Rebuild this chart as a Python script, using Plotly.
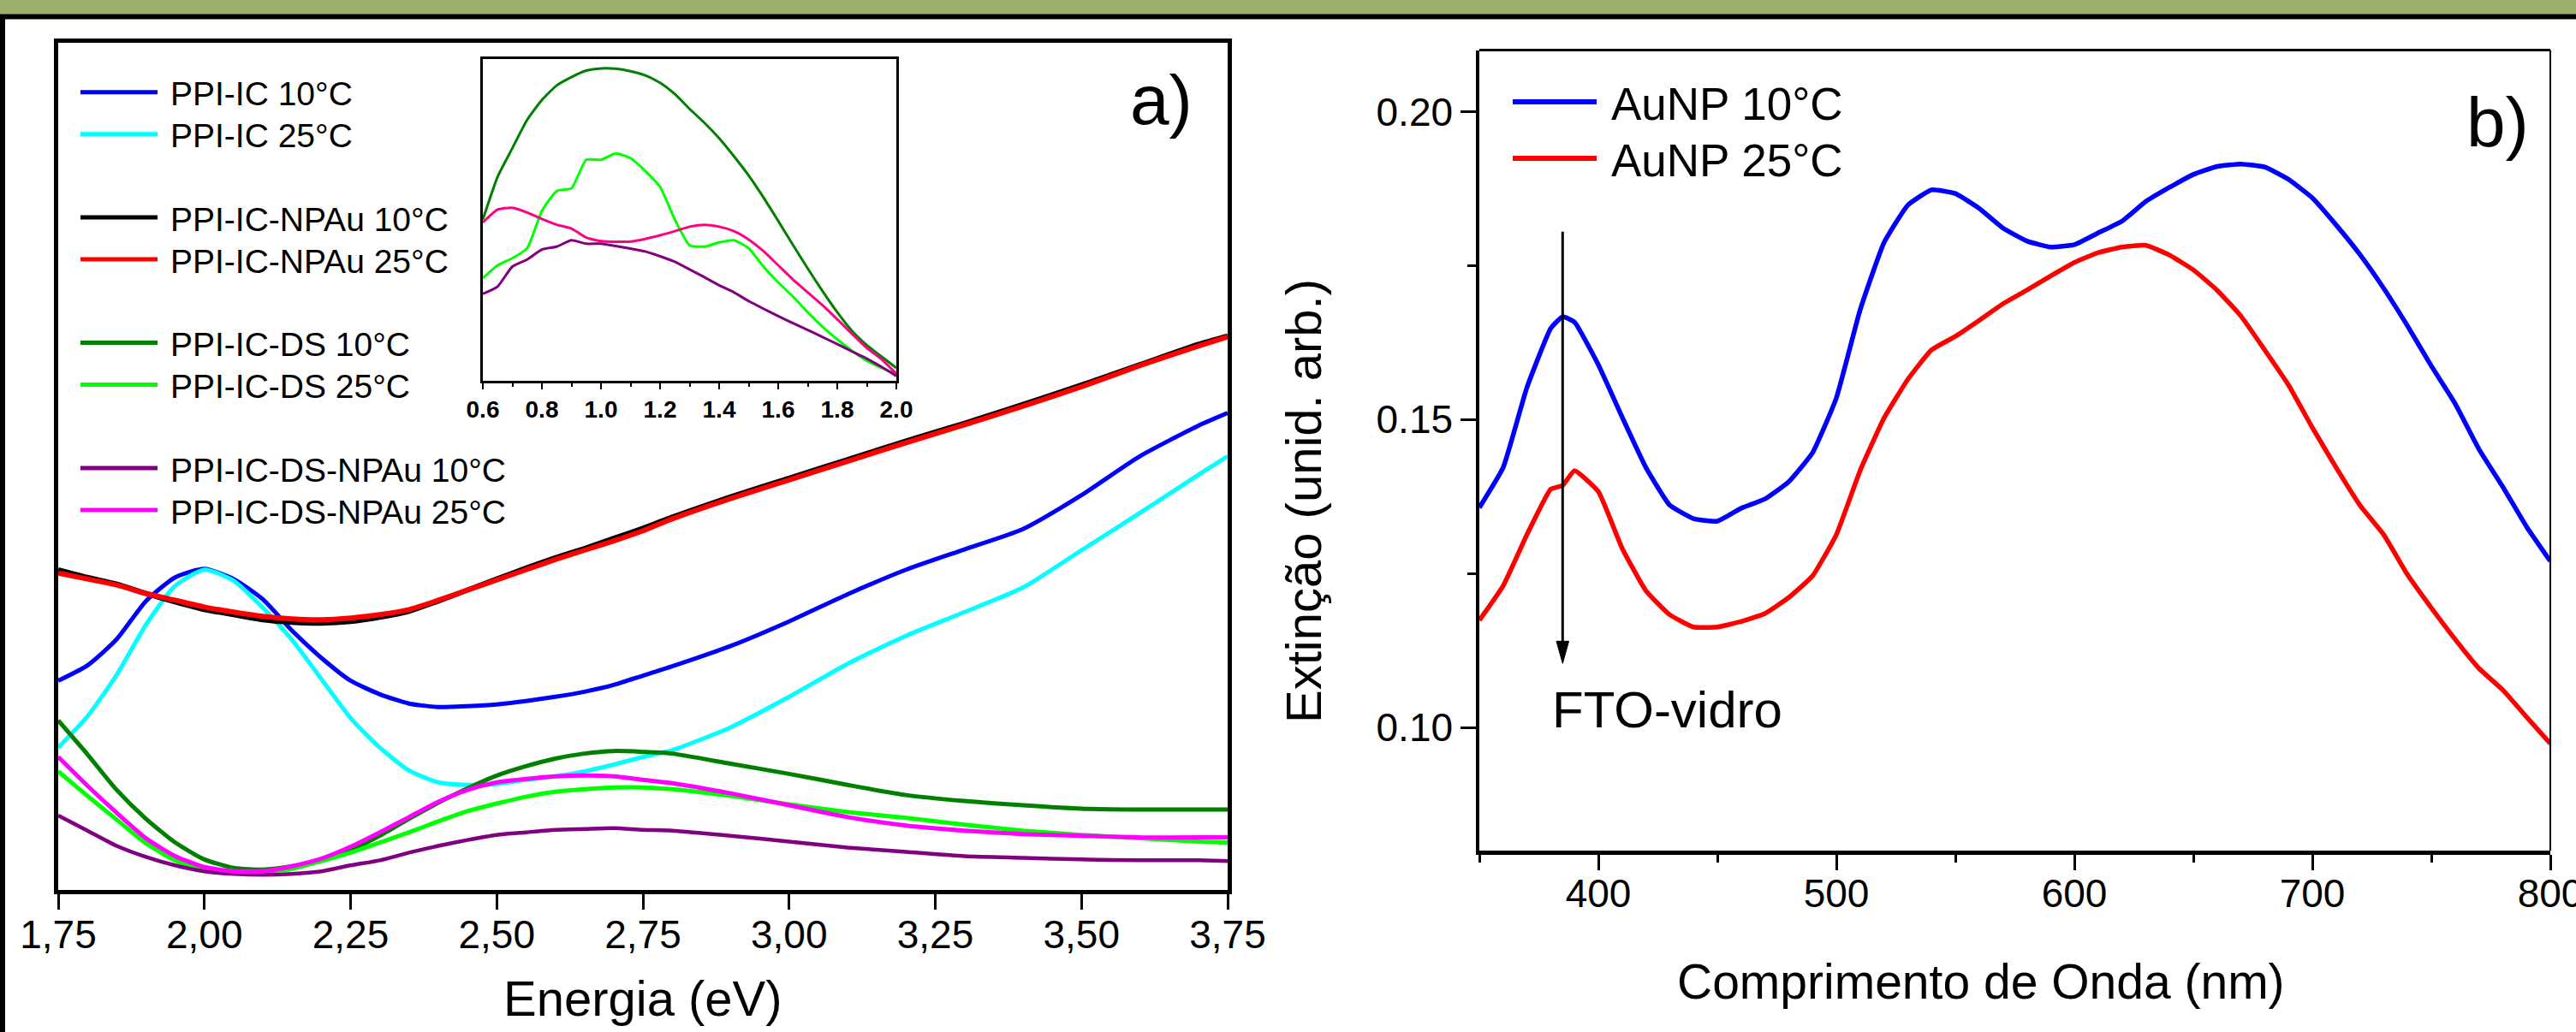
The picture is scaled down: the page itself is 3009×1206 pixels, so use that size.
import plotly.graph_objects as go

W, H = 3009, 1206
FONT = "Arial, 'Liberation Sans', sans-serif"

# ---------------- Panel a (main) ----------------
energy = [1.75, 1.80, 1.85, 1.90, 1.95, 2.00, 2.05, 2.10, 2.15, 2.20, 2.25,
          2.30, 2.35, 2.40, 2.45, 2.50, 2.55, 2.60, 2.65, 2.70, 2.75,
          2.80, 2.90, 3.00, 3.10, 3.20, 3.30, 3.40, 3.50, 3.60, 3.70, 3.75]

ppi_ic_10 = [0.247, 0.265, 0.296, 0.341, 0.369, 0.379, 0.367, 0.343, 0.306, 0.274, 0.247,
             0.231, 0.220, 0.216, 0.217, 0.219, 0.223, 0.228, 0.234, 0.242, 0.253,
             0.264, 0.288, 0.317, 0.349, 0.378, 0.402, 0.426, 0.466, 0.512, 0.548, 0.563]
ppi_ic_25 = [0.168, 0.205, 0.254, 0.313, 0.359, 0.378, 0.365, 0.333, 0.295, 0.249, 0.203,
             0.168, 0.141, 0.127, 0.124, 0.125, 0.130, 0.134, 0.140, 0.148, 0.157,
             0.165, 0.192, 0.228, 0.267, 0.300, 0.328, 0.357, 0.401, 0.445, 0.490, 0.512]
ppi_npau_10 = [0.378, 0.369, 0.361, 0.350, 0.340, 0.331, 0.325, 0.319, 0.316, 0.315, 0.317,
               0.322, 0.329, 0.341, 0.354, 0.367, 0.380, 0.392, 0.403, 0.415, 0.427,
               0.440, 0.464, 0.486, 0.508, 0.530, 0.551, 0.573, 0.596, 0.620, 0.644, 0.654]
ppi_npau_25 = [0.374, 0.367, 0.360, 0.350, 0.342, 0.334, 0.328, 0.323, 0.320, 0.319, 0.321,
               0.325, 0.331, 0.342, 0.354, 0.366, 0.378, 0.390, 0.401, 0.412, 0.424,
               0.438, 0.462, 0.484, 0.506, 0.528, 0.549, 0.571, 0.594, 0.619, 0.642, 0.653]
ppi_ds_10 = [0.200, 0.160, 0.118, 0.084, 0.056, 0.036, 0.026, 0.024, 0.028, 0.036, 0.047,
             0.064, 0.084, 0.103, 0.120, 0.135, 0.146, 0.155, 0.161, 0.164, 0.163,
             0.161, 0.149, 0.137, 0.124, 0.112, 0.105, 0.100, 0.096, 0.095, 0.095, 0.095]
ppi_ds_25 = [0.140, 0.111, 0.083, 0.055, 0.035, 0.025, 0.022, 0.022, 0.025, 0.034, 0.044,
             0.056, 0.068, 0.081, 0.093, 0.102, 0.110, 0.116, 0.119, 0.121, 0.121,
             0.119, 0.111, 0.101, 0.092, 0.085, 0.077, 0.070, 0.065, 0.061, 0.057, 0.056]
ppi_ds_npau_10 = [0.088, 0.070, 0.052, 0.039, 0.029, 0.022, 0.019, 0.018, 0.019, 0.022, 0.029,
                  0.035, 0.044, 0.052, 0.059, 0.065, 0.068, 0.071, 0.072, 0.073, 0.071,
                  0.070, 0.064, 0.057, 0.050, 0.045, 0.040, 0.038, 0.036, 0.035, 0.035, 0.034]
ppi_ds_npau_25 = [0.157, 0.123, 0.091, 0.061, 0.040, 0.027, 0.022, 0.022, 0.028, 0.037, 0.051,
                  0.068, 0.086, 0.104, 0.118, 0.127, 0.131, 0.134, 0.135, 0.134, 0.130,
                  0.126, 0.114, 0.100, 0.086, 0.076, 0.070, 0.066, 0.064, 0.062, 0.062, 0.062]

energy_ticks = [1.75, 2.00, 2.25, 2.50, 2.75, 3.00, 3.25, 3.50, 3.75]
energy_ticktext = ["1,75", "2,00", "2,25", "2,50", "2,75", "3,00", "3,25", "3,50", "3,75"]

# ---------------- Inset ----------------
inset_energy = [0.60, 0.65, 0.70, 0.75, 0.80, 0.85, 0.90, 0.95, 1.00, 1.05, 1.10, 1.15, 1.20,
                1.25, 1.30, 1.35, 1.40, 1.45, 1.50, 1.55, 1.60, 1.65, 1.70, 1.75, 1.80,
                1.85, 1.90, 1.95, 2.00]
inset_ds_10 = [0.501, 0.634, 0.723, 0.811, 0.873, 0.918, 0.944, 0.964, 0.971, 0.970, 0.962,
               0.949, 0.926, 0.891, 0.845, 0.802, 0.754, 0.698, 0.638, 0.570, 0.497, 0.422,
               0.349, 0.279, 0.213, 0.155, 0.111, 0.075, 0.040]
inset_ds_25 = [0.319, 0.359, 0.381, 0.412, 0.528, 0.590, 0.598, 0.687, 0.687, 0.707, 0.692,
               0.652, 0.603, 0.501, 0.421, 0.417, 0.430, 0.437, 0.412, 0.355, 0.306, 0.262,
               0.213, 0.168, 0.129, 0.093, 0.062, 0.040, 0.020]
inset_ds_npau_25 = [0.492, 0.532, 0.538, 0.523, 0.503, 0.485, 0.473, 0.445, 0.434, 0.432, 0.433,
                    0.441, 0.452, 0.465, 0.479, 0.485, 0.479, 0.465, 0.439, 0.403, 0.359, 0.315,
                    0.275, 0.235, 0.191, 0.146, 0.102, 0.067, 0.022]
inset_ds_npau_10 = [0.270, 0.293, 0.355, 0.377, 0.408, 0.417, 0.437, 0.426, 0.426, 0.419, 0.411,
                    0.402, 0.387, 0.370, 0.346, 0.322, 0.297, 0.275, 0.248, 0.224, 0.201, 0.179,
                    0.158, 0.136, 0.114, 0.091, 0.069, 0.043, 0.015]

# ---------------- Panel b ----------------
wavelength = [350, 360, 370, 380, 385, 390, 400, 410, 420, 430, 440, 450, 460, 470, 480, 490,
              500, 510, 520, 530, 540, 550, 560, 570, 580, 590, 600, 610, 620, 630, 640, 650,
              660, 670, 680, 690, 700, 710, 720, 730, 740, 750, 760, 770, 780, 790, 800]
aunp_10 = [0.1357, 0.1422, 0.1552, 0.1648, 0.1667, 0.1658, 0.1589, 0.1504, 0.1422, 0.1361,
           0.1339, 0.1335, 0.1356, 0.1371, 0.1399, 0.1446, 0.1535, 0.1678, 0.1787, 0.1848,
           0.1873, 0.1867, 0.1843, 0.1811, 0.1790, 0.1780, 0.1784, 0.1803, 0.1822, 0.1854,
           0.1877, 0.1898, 0.1911, 0.1915, 0.1910, 0.1890, 0.1860, 0.1816, 0.1768, 0.1713,
           0.1652, 0.1587, 0.1526, 0.1452, 0.1391, 0.1326, 0.1270]
aunp_25 = [0.1174, 0.1230, 0.1313, 0.1387, 0.1393, 0.1417, 0.1383, 0.1291, 0.1222, 0.1183,
           0.1163, 0.1163, 0.1172, 0.1185, 0.1211, 0.1246, 0.1313, 0.1417, 0.1502, 0.1565,
           0.1613, 0.1635, 0.1661, 0.1688, 0.1710, 0.1733, 0.1755, 0.1771, 0.1780, 0.1783,
           0.1767, 0.1743, 0.1710, 0.1668, 0.1613, 0.1556, 0.1487, 0.1422, 0.1361, 0.1313,
           0.1248, 0.1194, 0.1143, 0.1096, 0.1061, 0.1017, 0.0974]
ext_ticks = [0.10, 0.15, 0.20]
ext_ticktext = ["0.10", "0.15", "0.20"]
wl_ticks = [400, 500, 600, 700, 800]

# ---------------- names / colours ----------------
names_a = ["PPI-IC 10°C", "PPI-IC 25°C", "PPI-IC-NPAu 10°C", "PPI-IC-NPAu 25°C",
           "PPI-IC-DS 10°C", "PPI-IC-DS 25°C", "PPI-IC-DS-NPAu 10°C", "PPI-IC-DS-NPAu 25°C"]
colors_a = ["#0000FF", "#00FFFF", "#000000", "#FF0000",
            "#008000", "#00FF00", "#800080", "#FF00FF"]
series_a = [ppi_ic_10, ppi_ic_25, ppi_npau_10, ppi_npau_25,
            ppi_ds_10, ppi_ds_25, ppi_ds_npau_10, ppi_ds_npau_25]
widths_a = [5, 5, 6, 6, 5, 5, 4.5, 5]
names_b = ["AuNP 10°C", "AuNP 25°C"]
colors_b = ["#0000FF", "#FF0000"]

fig = go.Figure()

for name, col, ys, lw in zip(names_a, colors_a, series_a, widths_a):
    fig.add_trace(go.Scatter(x=energy, y=ys, mode="lines", name=name,
                             line=dict(color=col, width=lw, shape="spline", smoothing=0.6),
                             xaxis="x", yaxis="y", showlegend=False))

inset_series = [(inset_ds_10, "#008000"), (inset_ds_25, "#00FF00"),
                (inset_ds_npau_10, "#800080"), (inset_ds_npau_25, "#FF0080")]
for ys, col in inset_series:
    fig.add_trace(go.Scatter(x=inset_energy, y=ys, mode="lines",
                             line=dict(color=col, width=3, shape="spline", smoothing=0.5),
                             xaxis="x2", yaxis="y2", showlegend=False))

for name, col, ys in zip(names_b, colors_b, [aunp_10, aunp_25]):
    fig.add_trace(go.Scatter(x=wavelength, y=ys, mode="lines", name=name,
                             line=dict(color=col, width=5.5, shape="spline", smoothing=0.4),
                             xaxis="x3", yaxis="y3", showlegend=False))

def px(x):
    return x / W

def py(y):
    return 1 - y / H

axis_common = dict(showgrid=False, zeroline=False, linecolor="black", tickcolor="black",
                   automargin=False, ticklabeloverflow="allow",
                   tickfont=dict(family=FONT, size=46, color="black"))

fig.update_layout(
    width=W, height=H, autosize=False,
    margin=dict(l=0, r=0, t=0, b=0, pad=0),
    paper_bgcolor="white", plot_bgcolor="white",
    font=dict(family=FONT, color="black"),
    xaxis=dict(domain=[px(68), px(1434)], range=[1.75, 3.75], anchor="y",
               tickvals=energy_ticks, ticktext=energy_ticktext,
               ticks="outside", ticklen=18, tickwidth=3, ticklabelstandoff=-10,
               showline=True, linewidth=5, mirror=True, **axis_common),
    yaxis=dict(domain=[py(1040), py(50)], range=[0, 1], anchor="x",
               showticklabels=False, ticks="", showline=True, linewidth=5, mirror=True,
               showgrid=False, zeroline=False, linecolor="black", automargin=False),
    xaxis2=dict(domain=[px(564), px(1047)], range=[0.6, 2.0], anchor="y2",
                dtick=0.2, tick0=0.6, tickformat=".1f",
                ticks="outside", ticklen=7, tickwidth=2,
                minor=dict(dtick=0.1, tick0=0.6, ticks="outside", ticklen=4, tickwidth=2,
                           tickcolor="black"),
                showline=True, linewidth=2.5, mirror=True, automargin=False,
                showgrid=False, zeroline=False, linecolor="black", tickcolor="black",
                tickfont=dict(family=FONT, size=28, color="black", weight="bold")),
    yaxis2=dict(domain=[py(445), py(69)], range=[0, 1], anchor="x2",
                showticklabels=False, ticks="", showline=True, linewidth=2.5, mirror=True,
                showgrid=False, zeroline=False, linecolor="black", automargin=False),
    xaxis3=dict(domain=[px(1728), px(2979)], range=[350, 800], anchor="y3",
                tickvals=wl_ticks, ticks="outside", ticklen=18, tickwidth=3,
                ticklabelstandoff=-12,
                minor=dict(dtick=50, tick0=350, ticks="outside", ticklen=9, tickwidth=3,
                           tickcolor="black"),
                showline=True, linewidth=4.5, mirror=False, **axis_common),
    yaxis3=dict(domain=[py(994), py(58.5)], range=[0.08, 0.21], anchor="x3",
                tickvals=ext_ticks, ticktext=ext_ticktext, ticks="outside", ticklen=18,
                tickwidth=3,
                minor=dict(tickvals=[0.125, 0.175], ticks="outside", ticklen=10, tickwidth=3,
                           tickcolor="black"),
                showline=True, linewidth=3.5, mirror=False, **axis_common),
)

shapes = []
# page frame: green band, black rule, left border
shapes.append(dict(type="rect", xref="paper", yref="paper", x0=0, x1=1, y0=py(17), y1=1,
                   fillcolor="#9BAF6B", line=dict(width=0), layer="above"))
shapes.append(dict(type="rect", xref="paper", yref="paper", x0=0, x1=1, y0=py(22.5), y1=py(16.5),
                   fillcolor="black", line=dict(width=0), layer="above"))
shapes.append(dict(type="rect", xref="paper", yref="paper", x0=0, x1=px(6), y0=0, y1=py(17),
                   fillcolor="black", line=dict(width=0), layer="above"))
# panel b thin top / right frame
shapes.append(dict(type="line", xref="x3 domain", yref="y3 domain", x0=0, x1=1, y0=1, y1=1,
                   line=dict(color="black", width=3)))
shapes.append(dict(type="line", xref="x3 domain", yref="y3 domain", x0=1, x1=1, y0=0, y1=1,
                   line=dict(color="black", width=2)))

annotations = []
# legend panel a
legend_a_y = [107.7, 156.7, 254, 303, 400.5, 449.6, 547, 596]
for name, col, yy in zip(names_a, colors_a, legend_a_y):
    shapes.append(dict(type="line", xref="paper", yref="paper", x0=px(94), x1=px(184),
                       y0=py(yy), y1=py(yy), line=dict(color=col, width=5)))
    annotations.append(dict(text=name, xref="paper", yref="paper", x=px(197), y=py(yy + 2),
                            xanchor="left", yanchor="middle", showarrow=False,
                            font=dict(family=FONT, size=39, color="black")))
# legend panel b
legend_b_y = [119, 185]
for name, col, yy in zip(names_b, colors_b, legend_b_y):
    shapes.append(dict(type="line", xref="paper", yref="paper", x0=px(1767), x1=px(1865),
                       y0=py(yy), y1=py(yy), line=dict(color=col, width=6)))
    annotations.append(dict(text=name, xref="paper", yref="paper", x=px(1880), y=py(yy + 2),
                            xanchor="left", yanchor="middle", showarrow=False,
                            font=dict(family=FONT, size=53, color="black")))

# arrow (FTO-vidro)
shapes.append(dict(type="line", xref="x3", yref="y3", x0=385, x1=385, y0=0.1805, y1=0.1130,
                   line=dict(color="black", width=3)))
shapes.append(dict(type="path", xref="x3", yref="y3",
                   path="M 382.4,0.1140 L 387.6,0.1140 L 385,0.1104 Z",
                   fillcolor="black", line=dict(color="black", width=1)))
annotations.append(dict(text="FTO-vidro", xref="x3", yref="y3", x=429, y=0.1029,
                        showarrow=False, xanchor="center", yanchor="middle",
                        font=dict(family=FONT, size=60, color="black")))

# panel labels
annotations.append(dict(text="a)", xref="paper", yref="paper", x=px(1356), y=py(116),
                        showarrow=False, xanchor="center", yanchor="middle",
                        font=dict(family=FONT, size=82, color="black")))
annotations.append(dict(text="b)", xref="paper", yref="paper", x=px(2917), y=py(143),
                        showarrow=False, xanchor="center", yanchor="middle",
                        font=dict(family=FONT, size=82, color="black")))

# axis titles
annotations.append(dict(text="Energia (eV)", xref="paper", yref="paper", x=px(751), y=py(1166),
                        showarrow=False, xanchor="center", yanchor="middle",
                        font=dict(family=FONT, size=58, color="black")))
annotations.append(dict(text="Comprimento de Onda (nm)", xref="paper", yref="paper",
                        x=px(2314), y=py(1147), showarrow=False, xanchor="center",
                        yanchor="middle", font=dict(family=FONT, size=57, color="black")))
annotations.append(dict(text="Extinção (unid. arb.)", xref="paper", yref="paper",
                        x=px(1522), y=py(586), showarrow=False, xanchor="center",
                        yanchor="middle", textangle=-90,
                        font=dict(family=FONT, size=58, color="black")))

fig.update_layout(shapes=shapes, annotations=annotations)

fig.write_html("out.html",
               config={"displayModeBar": False},
               post_script="document.body.style.margin='0';document.body.style.padding='0';")
